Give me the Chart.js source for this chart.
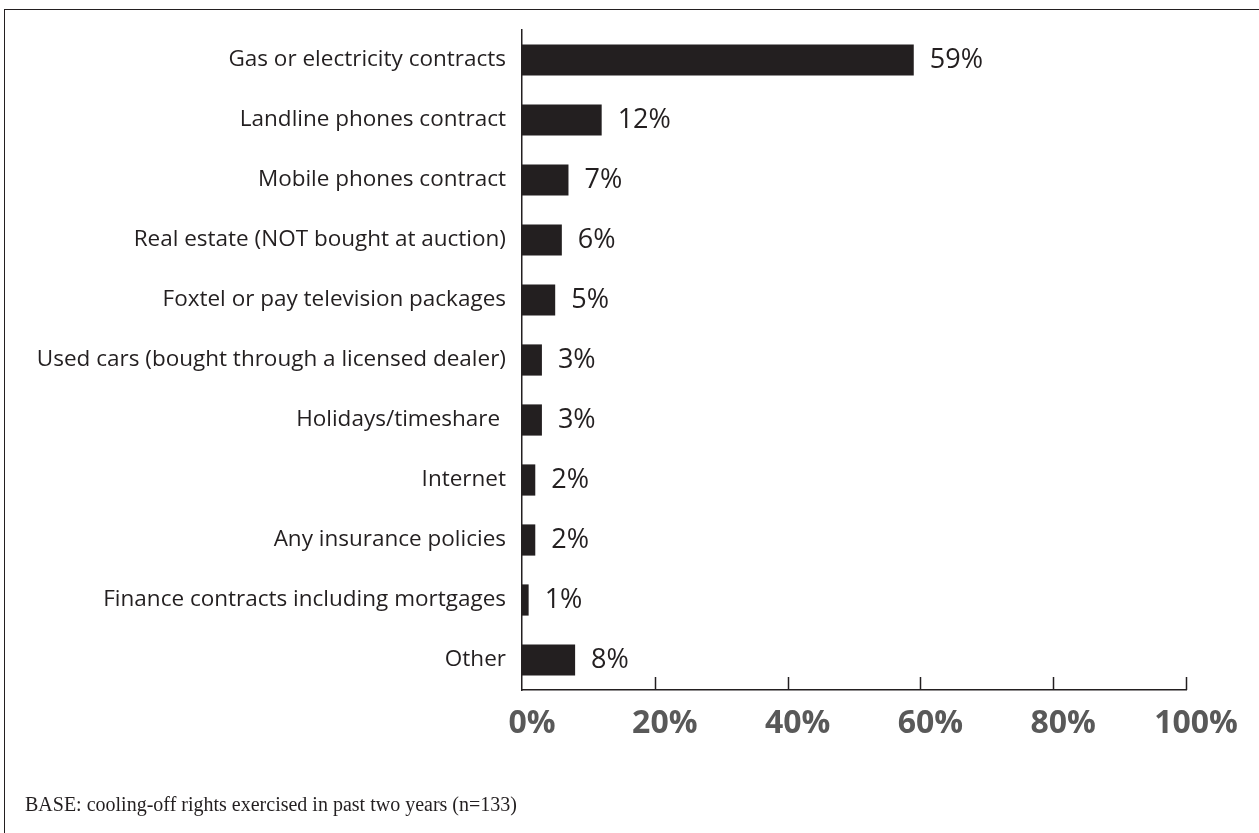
<!DOCTYPE html>
<html>
<head>
<meta charset="utf-8">
<script src="https://cdn.jsdelivr.net/npm/chart.js@4.4.1/dist/chart.umd.min.js"></script>
<style>
  html, body { margin: 0; padding: 0; background: #fff; }
  #wrap { position: relative; width: 1259px; height: 833px; overflow: hidden; }
  #frame { position: absolute; left: 4px; top: 9px; width: 1400px; height: 900px;
           border-left: 1.5px solid #231f20; border-top: 1.5px solid #231f20; }
  #chart { position: absolute; left: 0; top: 0; }
  #note { position: absolute; left: 25px; top: 793px; font-family: "Liberation Serif", "Times New Roman", serif;
          font-size: 20px; color: #231f20; white-space: nowrap; }
</style>
</head>
<body>
<div id="wrap">
  <div id="frame"></div>
  <canvas id="chart" width="1259" height="833"></canvas>
  <div id="note">BASE: cooling-off rights exercised in past two years (n=133)</div>
</div>
<script>
// Contract types where cooling-off rights were used
const categories = [
  "Gas or electricity contracts",
  "Landline phones contract",
  "Mobile phones contract",
  "Real estate (NOT bought at auction)",
  "Foxtel or pay television packages",
  "Used cars (bought through a licensed dealer)",
  "Holidays/timeshare ",
  "Internet",
  "Any insurance policies",
  "Finance contracts including mortgages",
  "Other"
];
// Share of respondents (%)
const shares = [59, 12, 7, 6, 5, 3, 3, 2, 2, 1, 8];
// Axis ticks (%)
const axisTicks = [0, 20, 40, 60, 80, 100];

const ink = "#231f20";

// Short upward tick marks sitting on the x axis
const innerTicks = {
  id: "innerTicks",
  afterDraw(chart) {
    const x = chart.scales.x;
    const ctx = chart.ctx;
    const bottom = chart.chartArea.bottom;
    ctx.save();
    ctx.strokeStyle = ink;
    ctx.lineWidth = 1.5;
    axisTicks.forEach(v => {
      if (v === 0) return;
      const px = Math.round(x.getPixelForValue(v)) + 0.5;
      ctx.beginPath();
      ctx.moveTo(px, bottom - 13);
      ctx.lineTo(px, bottom);
      ctx.stroke();
    });
    ctx.restore();
  }
};

// Percentage printed just past the end of each bar
const valueLabels = {
  id: "valueLabels",
  afterDatasetsDraw(chart) {
    const ctx = chart.ctx;
    const meta = chart.getDatasetMeta(0);
    ctx.save();
    ctx.fillStyle = ink;
    ctx.font = '27px "Open Sans", sans-serif';
    ctx.textAlign = "left";
    ctx.textBaseline = "middle";
    meta.data.forEach((bar, i) => {
      ctx.fillText(shares[i] + "%", bar.x + 16, bar.y);
    });
    ctx.restore();
  }
};

new Chart(document.getElementById("chart"), {
  type: "bar",
  data: {
    labels: categories,
    datasets: [{
      data: shares,
      backgroundColor: ink,
      borderWidth: 0,
      categoryPercentage: 1,
      barPercentage: 0.52
    }]
  },
  options: {
    indexAxis: "y",
    responsive: false,
    animation: false,
    layout: { padding: { top: 30, right: 73, left: 0, bottom: 0 } },
    plugins: { legend: { display: false }, tooltip: { enabled: false } },
    scales: {
      x: {
        min: 0, max: 100,
        afterFit(scale) { scale.height = 143; },
        afterBuildTicks(scale) { scale.ticks = axisTicks.map(v => ({ value: v })); },
        grid: { display: false, drawTicks: false },
        border: { display: true, color: ink, width: 1.5 },
        ticks: {
          padding: 18,
          labelOffset: 10,
          color: "#595959",
          font: { family: "Open Sans", size: 32, weight: "bold", lineHeight: 1 },
          callback: v => v + "%"
        }
      },
      y: {
        afterFit(scale) { scale.width = 522; },
        grid: { display: false, drawTicks: false },
        border: { display: true, color: ink, width: 1.5 },
        ticks: {
          padding: 16,
          color: ink,
          font: { family: "Open Sans", size: 22.5 }
        }
      }
    }
  },
  plugins: [innerTicks, valueLabels]
});
</script>
</body>
</html>
